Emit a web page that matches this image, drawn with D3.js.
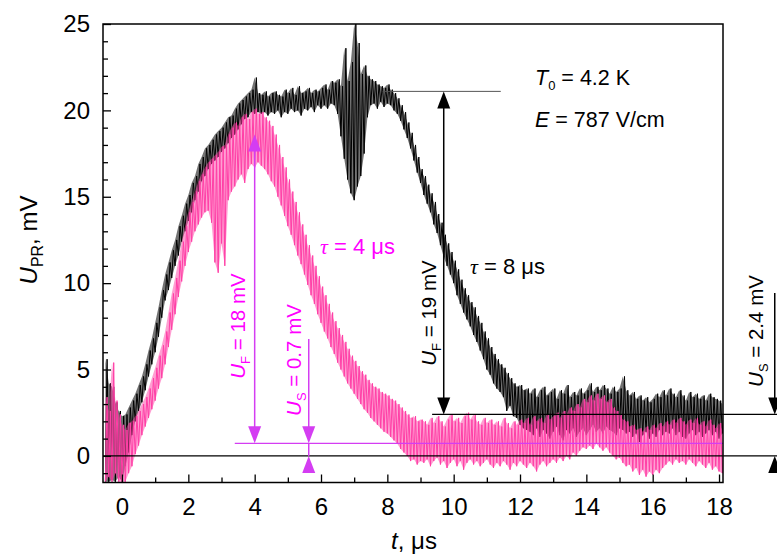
<!DOCTYPE html>
<html>
<head>
<meta charset="utf-8">
<script src="https://cdn.jsdelivr.net/npm/d3@7"></script>
<style>
body { margin: 0; background: #fff; }
svg { display: block; }
text { font-family: "Liberation Sans", Arial, sans-serif; }
</style>
</head>
<body>
<div id="chart"></div>
<script>
// tick labels
const xTicks = [0, 2, 4, 6, 8, 10, 12, 14, 16, 18];
const yTicks = [0, 5, 10, 15, 20, 25];

// traces sampled every 0.1 us from -0.5 us: lower / upper edge of the noise band (mV)
const tStart = -0.5, tStep = 0.1;
const blackLo = [
  -1.5,-1.5,-1.4,-1.5,-1.2,-1.5,-0.6,0.2,1.2,2.0,
  2.6,3.1,3.8,4.6,5.3,6.0,6.9,8.0,9.0,9.6,
  10.3,11.0,11.6,12.4,13.0,13.6,14.1,14.8,15.3,15.9,
  16.2,16.6,16.9,17.1,17.3,17.6,17.8,18.1,18.4,18.6,
  18.9,19.2,19.5,19.6,19.9,19.8,19.9,19.8,19.9,19.7,
  19.9,19.8,20.0,19.6,19.9,19.8,20.1,19.9,20.0,19.7,
  20.1,20.0,20.2,19.9,20.3,20.1,20.3,20.1,20.4,20.3,
  19.8,18.5,17.2,16.0,15.2,14.8,15.6,16.2,17.5,19.6,
  20.3,20.4,20.1,20.5,20.2,20.4,20.3,20.0,19.8,19.4,
  18.9,18.4,17.8,17.1,16.4,15.8,15.1,14.6,14.1,13.4,
  12.9,12.2,11.5,11.0,10.5,10.0,9.3,8.8,8.3,7.9,
  7.5,7.0,6.6,6.1,5.6,5.0,4.7,4.2,3.9,3.7,
  3.4,2.6,2.9,2.3,2.2,1.8,1.6,1.5,1.4,1.2,
  1.6,1.1,1.5,1.3,1.0,1.4,1.7,1.2,0.9,1.5,
  1.3,1.6,1.1,1.4,1.6,1.2,1.5,1.8,1.4,1.6,
  1.3,1.7,1.5,1.4,1.2,1.6,1.5,1.3,1.4,1.1,
  1.3,0.8,1.2,1.4,1.0,1.3,1.1,1.5,1.2,1.4,
  1.3,1.6,1.2,1.4,1.1,1.0,1.3,1.5,1.2,1.4,
  1.1,1.3,1.5,1.2,1.4,1.0,1.3
];
const blackHi = [
  5.6,4.2,4.0,3.1,2.6,2.3,2.4,2.8,3.2,3.6,
  4.1,4.6,5.3,6.1,6.8,7.7,8.6,9.6,10.5,11.2,
  11.9,12.5,13.3,13.9,14.6,15.1,15.8,16.2,16.9,17.3,
  17.8,18.0,18.3,18.6,18.8,19.0,19.3,19.6,19.7,20.1,
  20.4,20.6,20.8,21.0,21.2,21.9,21.0,20.9,21.1,20.8,
  21.0,21.1,20.9,20.8,21.2,21.0,21.3,20.9,21.4,21.0,
  21.1,21.3,21.0,21.2,21.1,21.3,21.5,21.2,21.7,21.6,
  21.8,21.4,23.6,21.7,22.8,25.0,23.9,22.1,22.6,22.0,
  21.8,21.7,21.5,21.4,21.3,21.5,21.2,21.0,20.7,20.3,
  19.9,19.3,18.7,18.0,17.3,16.6,16.2,15.7,15.2,14.7,
  14.0,13.5,12.8,12.3,11.8,11.3,10.8,10.2,9.7,9.3,
  8.9,8.6,8.1,7.7,7.2,6.8,6.3,5.9,5.6,5.3,
  5.1,4.8,4.5,4.2,4.0,4.1,3.8,3.9,3.6,3.9,
  3.4,3.8,4.0,3.5,3.7,3.9,3.3,3.8,3.6,4.1,
  3.4,3.7,3.5,3.9,3.6,3.8,4.2,3.7,4.0,3.8,
  4.1,3.9,3.6,4.0,3.7,3.9,4.6,3.8,3.5,3.7,
  3.3,3.5,3.2,3.4,3.1,3.3,3.6,3.4,3.8,3.5,
  3.9,3.6,3.4,3.8,3.5,3.2,3.7,3.4,3.6,3.3,
  3.5,3.2,3.6,3.4,3.3,3.2,3.0
];
const pinkLo = [
  -1.5,-1.2,-1.5,-1.0,-1.5,-1.5,-1.5,-1.0,-0.6,0.1,
  0.6,1.2,1.7,2.2,2.7,3.2,3.9,4.5,5.3,6.3,
  7.3,8.2,9.2,10.1,11.0,11.8,12.4,13.0,13.4,13.8,
  14.1,14.2,13.5,11.2,10.6,12.3,11.0,14.8,15.3,15.6,
  16.0,16.3,15.8,16.6,16.9,16.7,17.0,16.8,16.6,16.3,
  15.9,15.6,15.0,14.5,13.9,13.3,12.8,12.2,11.6,11.1,
  10.5,9.9,9.3,8.8,8.2,7.7,7.2,6.8,6.3,5.9,
  5.4,5.0,4.6,4.2,3.9,3.6,3.3,3.0,2.7,2.5,
  2.2,2.0,1.8,1.6,1.4,1.3,1.1,0.9,0.7,0.4,
  0.2,0.0,-0.3,-0.2,-0.5,-0.3,-0.4,-0.2,-0.6,-0.3,
  -0.1,-0.5,-0.3,-0.7,-0.4,-0.2,-0.6,-0.3,-0.8,-0.4,
  -0.2,-0.5,-0.3,-0.6,-0.4,-0.2,-0.5,-0.7,-0.4,-0.6,
  -0.3,-0.5,-0.8,-0.4,-0.6,-0.3,-0.5,-0.7,-0.4,-0.6,
  -0.9,-0.5,-0.3,-0.6,-0.4,-0.2,-0.4,-0.1,-0.3,0.0,
  -0.2,0.2,0.0,0.3,0.5,0.4,0.6,0.4,0.7,0.5,
  0.3,0.5,0.2,0.0,-0.2,-0.1,-0.4,-0.6,-0.5,-0.9,
  -0.7,-1.1,-0.8,-1.2,-0.9,-1.1,-0.8,-1.0,-0.7,-0.5,
  -0.3,-0.5,-0.2,-0.4,-0.3,-0.5,-0.2,-0.4,-0.6,-0.3,
  -0.5,-0.7,-0.4,-0.8,-0.6,-0.9,-1.0
];
const pinkHi = [
  3.4,2.6,5.4,3.2,2.4,1.8,1.5,1.9,2.0,2.3,
  2.6,3.0,3.4,3.9,4.5,5.1,5.8,6.4,7.2,8.3,
  9.4,10.3,11.3,12.4,13.3,14.1,14.7,15.3,15.9,16.3,
  16.7,17.0,17.2,17.4,17.6,17.9,18.0,18.6,19.0,19.3,
  19.1,19.6,19.8,19.5,19.9,20.1,19.8,19.9,19.6,19.4,
  19.1,18.6,18.0,17.3,16.7,16.0,15.3,14.7,14.1,13.4,
  12.8,12.2,11.6,11.0,10.4,9.8,9.3,8.8,8.3,7.8,
  7.4,7.0,6.6,6.2,5.8,5.5,5.2,4.9,4.7,4.4,
  4.2,4.0,3.9,3.7,3.6,3.5,3.3,3.2,3.0,2.8,
  2.6,2.4,2.2,2.3,2.0,2.1,2.0,1.8,2.2,1.9,
  2.3,2.0,1.7,2.1,2.4,2.0,2.2,1.9,2.3,2.5,
  2.1,2.4,2.0,1.8,2.2,1.9,2.1,1.8,2.0,1.7,
  2.2,1.9,1.6,2.0,1.8,2.1,1.9,2.2,1.8,2.3,
  2.0,2.2,1.9,2.4,2.1,2.3,2.5,2.2,2.6,2.4,
  2.8,2.6,3.0,2.8,3.3,3.1,3.5,3.2,3.6,3.3,
  3.5,3.1,3.3,2.8,2.6,2.4,2.1,2.0,1.7,1.8,
  1.5,1.6,1.4,1.7,1.5,1.8,1.6,1.9,1.7,2.0,
  1.8,2.1,1.9,2.2,2.0,1.8,2.1,1.9,2.2,1.8,
  2.0,1.7,2.1,1.8,1.6,1.9,1.5
];

// annotation levels (mV) and marker times (us)
const blackFast = 21.1, blackSlow = 2.4, pinkFast = 18.6, pinkSlow = 0.73;
const blackArrowT = 9.7, pinkFastT = 4.0, pinkSlowT = 5.63, rightArrowT = 19.68;

const width = 777, height = 557;
const plotL = 103, plotR = 723, plotT = 24, plotB = 482.5;
const pinkTrace = "#ff3fa6", violet = "#d43df2", magentaText = "#ff00ff";

const svg = d3.select("#chart").append("svg")
    .attr("width", width)
    .attr("height", height);

const x = d3.scaleLinear().domain([-0.573, 18.12]).range([plotL, plotR]);
const y = d3.scaleLinear().domain([-1.54, 25]).range([plotB, plotT]);

svg.append("clipPath").attr("id", "plot-clip")
  .append("rect")
    .attr("x", plotL).attr("y", plotT)
    .attr("width", plotR - plotL).attr("height", plotB - plotT);

// zigzag through the noise band: lower edge, then upper edge half a step later
function band(lo, hi) {
    const pts = [];
    lo.forEach(function(v, i) {
        const t = tStart + i * tStep;
        pts.push([t, v]);
        pts.push([t + tStep / 2, hi[i]]);
    });
    return pts;
}

const line = d3.line().x(d => x(d[0])).y(d => y(d[1]));
const area = d3.area()
    .x((d, i) => x(tStart + i * tStep))
    .y0(d => y(d[0]))
    .y1(d => y(d[1]));

const traces = svg.append("g").attr("clip-path", "url(#plot-clip)");
function drawTrace(lo, hi, color, fillOpacity) {
    traces.append("path")
        .attr("d", area(lo.map((v, i) => [v, hi[i]])))
        .attr("fill", color).attr("fill-opacity", fillOpacity);
    traces.append("path")
        .attr("d", line(band(lo, hi)))
        .attr("fill", "none").attr("stroke", color).attr("stroke-width", 1);
}
drawTrace(blackLo, blackHi, "#000", 0.55);
drawTrace(pinkLo, pinkHi, pinkTrace, 0.5);

// reference levels
svg.append("line")
    .attr("x1", plotL).attr("x2", width)
    .attr("y1", y(0)).attr("y2", y(0))
    .attr("stroke", "#000").attr("stroke-width", 1.3);
svg.append("line")
    .attr("x1", x(9.35)).attr("x2", width)
    .attr("y1", y(blackSlow)).attr("y2", y(blackSlow))
    .attr("stroke", "#000").attr("stroke-width", 1.3);
svg.append("line")
    .attr("x1", x(3.4)).attr("x2", plotR)
    .attr("y1", y(pinkSlow)).attr("y2", y(pinkSlow))
    .attr("stroke", violet).attr("stroke-width", 1.3);
svg.append("line")
    .attr("x1", x(7.86)).attr("x2", x(11.42))
    .attr("y1", y(blackFast)).attr("y2", y(blackFast))
    .attr("stroke", "#555").attr("stroke-width", 1);

// filled arrow heads: dir = 1 points down, -1 points up
function head(px, tipY, dir, color) {
    const h = 17, w = 6.5;
    svg.append("path")
        .attr("d", `M${px},${tipY} L${px - w},${tipY - dir * h} L${px + w},${tipY - dir * h} Z`)
        .attr("fill", color);
}
function vline(px, y1, y2, color) {
    svg.append("line")
        .attr("x1", px).attr("x2", px)
        .attr("y1", y1).attr("y2", y2)
        .attr("stroke", color).attr("stroke-width", 1.5);
}

// black U_F arrow
const bx = x(blackArrowT);
vline(bx, y(blackFast) + 10, y(blackSlow) - 10, "#000");
head(bx, y(blackFast), -1, "#000");
head(bx, y(blackSlow), 1, "#000");

// pink U_F arrow
const fx = x(pinkFastT);
vline(fx, y(pinkFast) + 10, y(pinkSlow) - 10, violet);
head(fx, y(pinkFast), -1, violet);
head(fx, y(pinkSlow), 1, violet);

// pink U_S arrow
const sx = x(pinkSlowT);
vline(sx, 339, y(pinkSlow) - 10, violet);
head(sx, y(pinkSlow), 1, violet);
vline(sx, y(0), y(pinkSlow), violet);
head(sx, y(0), -1, violet);

// black U_S arrow at the right edge
const rx = x(rightArrowT);
vline(rx, 293, y(blackSlow) - 10, "#000");
head(rx, y(blackSlow), 1, "#000");
head(rx, y(0), -1, "#000");

// rotated labels with subscript
function vlabel(cx, cy, sub, rest, color) {
    const t = svg.append("text")
        .attr("transform", `translate(${cx},${cy}) rotate(-90)`)
        .attr("text-anchor", "middle")
        .attr("font-size", 20.5)
        .attr("fill", color);
    t.append("tspan").attr("font-style", "italic").text("U");
    t.append("tspan").attr("font-size", 13).attr("dy", 5).text(sub);
    t.append("tspan").attr("dy", -5).text(rest);
}
vlabel(245, 326, "F", " = 18 mV", magentaText);
vlabel(301, 360, "S", " = 0.7 mV", magentaText);
vlabel(436, 313, "F", " = 19 mV", "#000");
vlabel(763, 331, "S", " = 2.4 mV", "#000");

// time constants
function tau(px0, py0, rest, color) {
    const t = svg.append("text")
        .attr("x", px0).attr("y", py0)
        .attr("font-size", 22)
        .attr("fill", color);
    t.append("tspan").attr("font-style", "italic")
        .attr("font-family", "'Liberation Serif', 'DejaVu Serif', serif").text("τ");
    t.append("tspan").text(rest);
}
tau(320, 254, " = 4 μs", magentaText);
tau(470, 274, " = 8 μs", "#000");

// conditions
const cond = svg.append("text").attr("x", 535).attr("y", 85).attr("font-size", 21.5);
cond.append("tspan").attr("font-style", "italic").text("T");
cond.append("tspan").attr("font-size", 13).attr("dy", 5).text("0");
cond.append("tspan").attr("dy", -5).text(" = 4.2 K");
const cond2 = svg.append("text").attr("x", 535).attr("y", 127).attr("font-size", 21.5);
cond2.append("tspan").attr("font-style", "italic").text("E");
cond2.append("tspan").text(" = 787 V/cm");

// frame
svg.append("rect")
    .attr("x", plotL).attr("y", plotT)
    .attr("width", plotR - plotL).attr("height", plotB - plotT)
    .attr("fill", "none").attr("stroke", "#000").attr("stroke-width", 1.5);

// axes with inward ticks
const xAxis = svg.append("g").attr("transform", `translate(0,${plotB})`)
    .call(d3.axisBottom(x).tickValues(xTicks).tickSize(-8).tickPadding(15));
const xMinor = svg.append("g").attr("transform", `translate(0,${plotB})`)
    .call(d3.axisBottom(x).tickValues(d3.range(1, 18, 2)).tickSize(-5).tickFormat(""));
const yAxis = svg.append("g").attr("transform", `translate(${plotL},0)`)
    .call(d3.axisLeft(y).tickValues(yTicks).tickSize(-8).tickPadding(13));
const yMinor = svg.append("g").attr("transform", `translate(${plotL},0)`)
    .call(d3.axisLeft(y).tickValues(d3.range(-1, 25).filter(v => v % 5 !== 0)).tickSize(-5).tickFormat(""));

[xAxis, xMinor, yAxis, yMinor].forEach(function(g) {
    g.select(".domain").remove();
    g.selectAll(".tick line").attr("stroke-width", 1.3);
    g.selectAll("text")
        .attr("font-family", "'Liberation Sans', Arial, sans-serif")
        .attr("font-size", 24)
        .attr("fill", "#000");
});

// axis titles
const xt = svg.append("text")
    .attr("x", 414).attr("y", 549)
    .attr("text-anchor", "middle")
    .attr("font-size", 24);
xt.append("tspan").attr("font-style", "italic").text("t");
xt.append("tspan").text(", μs");

const yt = svg.append("text")
    .attr("transform", "translate(37,240) rotate(-90)")
    .attr("text-anchor", "middle")
    .attr("font-size", 24);
yt.append("tspan").attr("font-style", "italic").text("U");
yt.append("tspan").attr("font-size", 16).attr("dy", 6).text("PR");
yt.append("tspan").attr("dy", -6).text(", mV");
</script>
</body>
</html>
